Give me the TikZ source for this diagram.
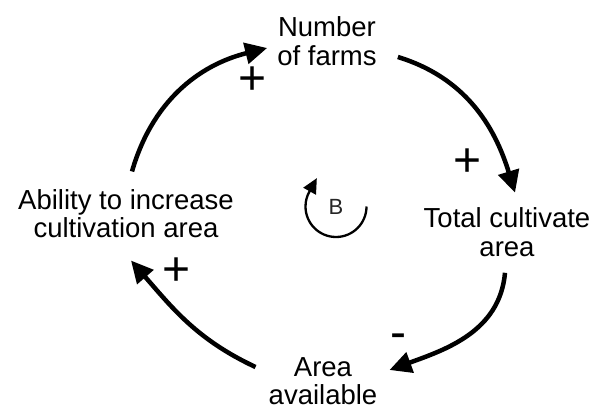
\documentclass[tikz,border=0pt]{standalone}
\usepackage{fontspec}
\setmainfont{Liberation Sans}
\usetikzlibrary{arrows.meta,positioning}
\tikzset{
  var/.style={inner sep=0pt, align=center, font=\fontsize{27.5}{28.5}\selectfont},
  link/.style={-{Triangle[length=22pt,width=21pt]}, line width=4.5pt},
  sign/.style={inner sep=0pt, font=\fontsize{48}{48}\selectfont},
  loopline/.style={-{Triangle[length=15pt,width=14pt]}, line width=2.3pt},
  looplabel/.style={inner sep=0pt, text=black!85, font=\fontsize{22}{22}\selectfont}
}

\begin{document}
\begin{tikzpicture}[x=1pt,y=1pt]
  \useasboundingbox (0,0) rectangle (602,410);
  \node[var] (farms) at (327,369) {Number\\of farms};
  \node[var] (total) at (507,177.75) {Total cultivate\\area};
  \node[var] (avail) at (323,29) {Area\\available};
  \node[var] (ability) at (126,196.5) {Ability to increase\\cultivation area};
  \draw[link] ([xshift=6pt,yshift=17.5pt]ability.north) to[out=74,in=194] ([xshift=-10pt,yshift=-7pt]farms.west);
  \draw[link] ([xshift=21pt,yshift=-16pt]farms.east) to[out=-17,in=107] ([xshift=8pt,yshift=15pt]total.north);
  \draw[link] ([xshift=-2pt,yshift=-16pt]total.south) to[out=-95,in=20] ([xshift=12pt,yshift=11pt]avail.east);
  \draw[link] ([xshift=-13pt,yshift=14pt]avail.west) to[out=155,in=-49] ([xshift=5pt,yshift=-22.5pt]ability.south);
  \node[sign] (s1) at (253,329.4) {+};
  \node[sign] (s2) at (468,247.4) {+};
  \node[sign] (s3) at (398,68.5) {-};
  \node[sign] (s4) at (177,138.4) {+};
  \node[looplabel] (loop) at (336,203.5) {B};
  \draw[loopline] ([xshift=30.5pt]loop.center) arc[start angle=0,end angle=-210,radius=30.5] -- ++(61:15);
\end{tikzpicture}
\end{document}
